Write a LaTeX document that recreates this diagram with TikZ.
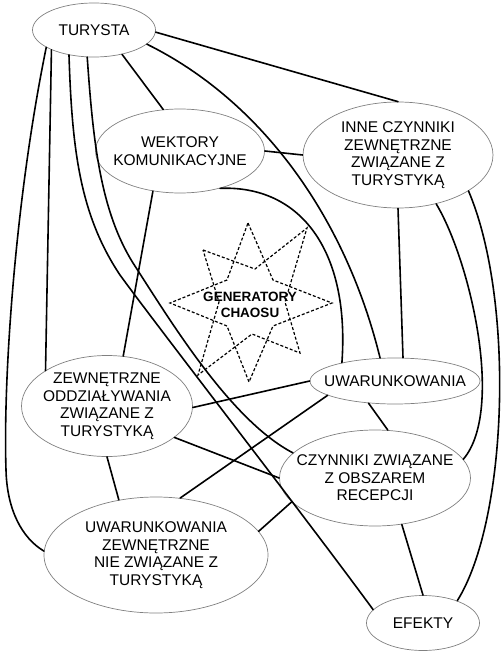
\documentclass[tikz,border=0pt]{standalone}
\usepackage{fontspec}
\setmainfont{Liberation Sans}
\usetikzlibrary{shapes.geometric}
\tikzset{
  ell/.style={ellipse, draw=black!50, line width=0.7pt, inner sep=-25pt, align=center,
    font=\fontsize{15.5}{17.5}\selectfont, text=black},
  con/.style={line width=1.6pt, black, line cap=round},
  starline/.style={line width=1.2pt, black, dash pattern=on 3pt off 2pt},
  gentext/.style={align=center, font=\fontsize{13.5}{16}\selectfont\bfseries, inner sep=0pt}
}
\begin{document}
\begin{tikzpicture}[x=1pt,y=-1pt]
\useasboundingbox (0,0) rectangle (503,652);
% nodes
\node[ell, minimum width=123pt, minimum height=54pt] (tur) at (94,30) {TURYSTA};
\node[ell, minimum width=169pt, minimum height=84pt] (wek) at (180,151) {WEKTORY\\KOMUNIKACYJNE};
\node[ell, minimum width=190pt, minimum height=106pt] (inne) at (398,155) {INNE CZYNNIKI\\ZEWNĘTRZNE\\ZWIĄZANE Z\\TURYSTYKĄ};
\node[ell, minimum width=170pt, minimum height=46pt] (uw) at (395,381) {UWARUNKOWANIA};
\node[ell, minimum width=171pt, minimum height=101pt] (zew) at (107,406) {ZEWNĘTRZNE\\ODDZIAŁYWANIA\\ZWIĄZANE Z\\TURYSTYKĄ};
\node[ell, minimum width=191pt, minimum height=96pt] (czy) at (375,478) {CZYNNIKI ZWIĄZANE\\Z OBSZAREM\\RECEPCJI};
\node[ell, minimum width=224pt, minimum height=116pt] (uwz) at (156,555) {UWARUNKOWANIA\\ZEWNĘTRZNE\\NIE ZWIĄZANE Z\\TURYSTYKĄ};
\node[ell, minimum width=113pt, minimum height=55pt] (efe) at (423,623) {EFEKTY};
% star
\draw[starline] (248,223) -- (273,280) -- (332,303) -- (273,326) -- (249,382) -- (227,326) -- (170,303) -- (227,280) -- cycle;
\draw[starline] (203,250) -- (255,269) -- (307,228) -- (285,302) -- (300,353) -- (252,334) -- (198,375) -- (219,302) -- cycle;
\node[gentext] (gen) at (250,305) {GENERATORY\\CHAOSU};
% connectors
\draw[con] (tur.-2) -- (inne.90);
\draw[con] (tur.-15.5) .. controls (260,100) and (345,215) .. (uw.123);
\draw[con] (tur.-41) -- (wek.112);
\draw[con] (tur.200) .. controls (15,200) and (3,380) .. (6,470) .. controls (7,510) and (22,538) .. (uwz.178);
\draw[con] (tur.205.5) -- (zew.150);
\draw[con] (tur.225) .. controls (72,150) and (80,215) .. (120,275) .. controls (160,330) and (300,510) .. (efe.165);
\draw[con] (tur.256) .. controls (93,140) and (100,210) .. (133,263) .. controls (170,320) and (230,420) .. (czy.163);
\draw[con] (wek.0) -- (inne.180);
\draw[con] (wek.-43.5) .. controls (300,185) and (350,250) .. (uw.161);
\draw[con] (wek.236.6) -- (zew.72);
\draw[con] (inne.270) -- (uw.71);
\draw[con] (inne.-52) .. controls (470,260) and (505,410) .. (czy.12.8);
\draw[con] (inne.-27.8) .. controls (515,300) and (508,520) .. (efe.33);
\draw[con] (zew.-1) -- (uw.180);
\draw[con] (zew.-25) -- (czy.180);
\draw[con] (zew.270) -- (uwz.124);
\draw[con] (uw.192) -- (uwz.67.5);
\draw[con] (uw.220) -- (czy.75);
\draw[con] (czy.196) -- (uwz.13.6);
\draw[con] (czy.-60) -- (efe.90);
\end{tikzpicture}
\end{document}
